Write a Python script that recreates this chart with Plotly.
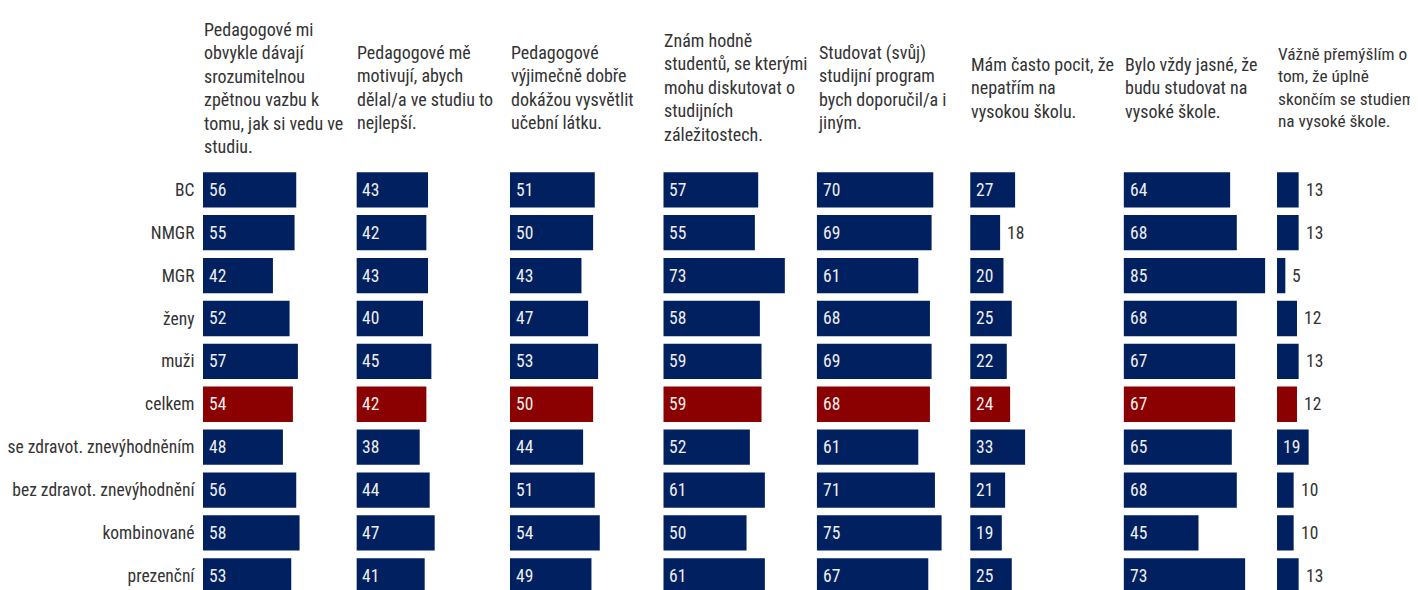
import plotly.graph_objects as go

categories = ["BC", "NMGR", "MGR", "ženy", "muži", "celkem",
              "se zdravot. znevýhodněním", "bez zdravot. znevýhodnění",
              "kombinované", "prezenční"]

titles = [
    "Pedagogové mi<br>obvykle dávají<br>srozumitelnou<br>zpětnou vazbu k<br>tomu, jak si vedu ve<br>studiu.",
    "Pedagogové mě<br>motivují, abych<br>dělal/a ve studiu to<br>nejlepší.",
    "Pedagogové<br>výjimečně dobře<br>dokážou vysvětlit<br>učební látku.",
    "Znám hodně<br>studentů, se kterými<br>mohu diskutovat o<br>studijních<br>záležitostech.",
    "Studovat (svůj)<br>studijní program<br>bych doporučil/a i<br>jiným.",
    "Mám často pocit, že<br>nepatřím na<br>vysokou školu.",
    "Bylo vždy jasné, že<br>budu studovat na<br>vysoké škole.",
    "Vážně přemýšlím o<br>tom, že úplně<br>skončím se studiem<br>na vysoké škole.",
]

v_zpetna_vazba = [56, 55, 42, 52, 57, 54, 48, 56, 58, 53]
v_motivace = [43, 42, 43, 40, 45, 42, 38, 44, 47, 41]
v_vysvetleni = [51, 50, 43, 47, 53, 50, 44, 51, 54, 49]
v_studenti = [57, 55, 73, 58, 59, 59, 52, 61, 50, 61]
v_doporuceni = [70, 69, 61, 68, 69, 68, 61, 71, 75, 67]
v_nepatrim = [27, 18, 20, 25, 22, 24, 33, 21, 19, 25]
v_jasne = [64, 68, 85, 68, 67, 67, 65, 68, 45, 73]
v_skoncim = [13, 13, 5, 12, 13, 12, 19, 10, 10, 13]

series = [v_zpetna_vazba, v_motivace, v_vysvetleni, v_studenti,
          v_doporuceni, v_nepatrim, v_jasne, v_skoncim]

NAVY = "#002060"
RED = "#8B0000"
FONT = "Roboto Condensed, Liberation Sans Narrow, Arial Narrow, DejaVu Sans Condensed, Roboto, sans-serif"
TXT = "#333333"

# the page adds an 8px body margin, so the figure is sized to fill the rest
W, H = 1410, 582
OFF = 8
PX_PER_UNIT = 1.665
panel_start = [203 - OFF + 153.43 * i for i in range(8)]
panel_width = [148] * 7 + [W - panel_start[7]]
title_size = [18] * 7 + [17.3]

fig = go.Figure()
annotations = []
top_px = 168.35 - OFF
ydom = [0, 1 - top_px / H]

for i, vals in enumerate(series):
    n = i + 1
    xa = "x" if n == 1 else f"x{n}"
    ya = "y" if n == 1 else f"y{n}"
    colors = [RED if c == "celkem" else NAVY for c in categories]
    fig.add_trace(go.Bar(
        x=vals, y=categories, orientation="h",
        marker=dict(color=colors, line=dict(width=0)),
        xaxis=xa, yaxis=ya, showlegend=False, hoverinfo="x+y",
    ))
    x0 = panel_start[i] / W
    x1 = (panel_start[i] + panel_width[i]) / W
    rng = panel_width[i] / PX_PER_UNIT
    fig.layout[f"xaxis{'' if n == 1 else n}"] = dict(
        domain=[x0, min(x1, 1)], range=[0, rng], visible=False,
        anchor=ya, fixedrange=True)
    fig.layout[f"yaxis{'' if n == 1 else n}"] = dict(
        domain=ydom, anchor=xa, type="category",
        categoryorder="array", categoryarray=categories,
        range=[9.33, -0.5], autorange=False,
        showticklabels=(n == 1), showgrid=False, zeroline=False,
        showline=False, ticks="outside" if n == 1 else "", ticklen=4,
        tickcolor="rgba(0,0,0,0)",
        tickfont=dict(family=FONT, size=17.5, color=TXT), fixedrange=True)
    for c, v in zip(categories, vals):
        inside = v >= 19
        annotations.append(dict(
            x=0 if inside else v, y=c, xref=xa, yref=ya,
            text=str(v), showarrow=False, xanchor="left", yanchor="middle",
            xshift=4 if inside else 5,
            font=dict(family=FONT, size=17.5,
                      color="#eeeeee" if inside else TXT)))
    annotations.append(dict(
        x=x0, y=1 - (88 - OFF) / H, xref="paper", yref="paper",
        text=titles[i], showarrow=False, xanchor="left", yanchor="middle",
        align="left", xshift=-1,
        font=dict(family=FONT, size=title_size[i], color=TXT)))

fig.update_layout(
    width=W, height=H, margin=dict(l=0, r=0, t=0, b=0),
    paper_bgcolor="white", plot_bgcolor="white",
    bargap=0.177, annotations=annotations,
    font=dict(family=FONT, color=TXT),
)

fig.write_html("out.html")
